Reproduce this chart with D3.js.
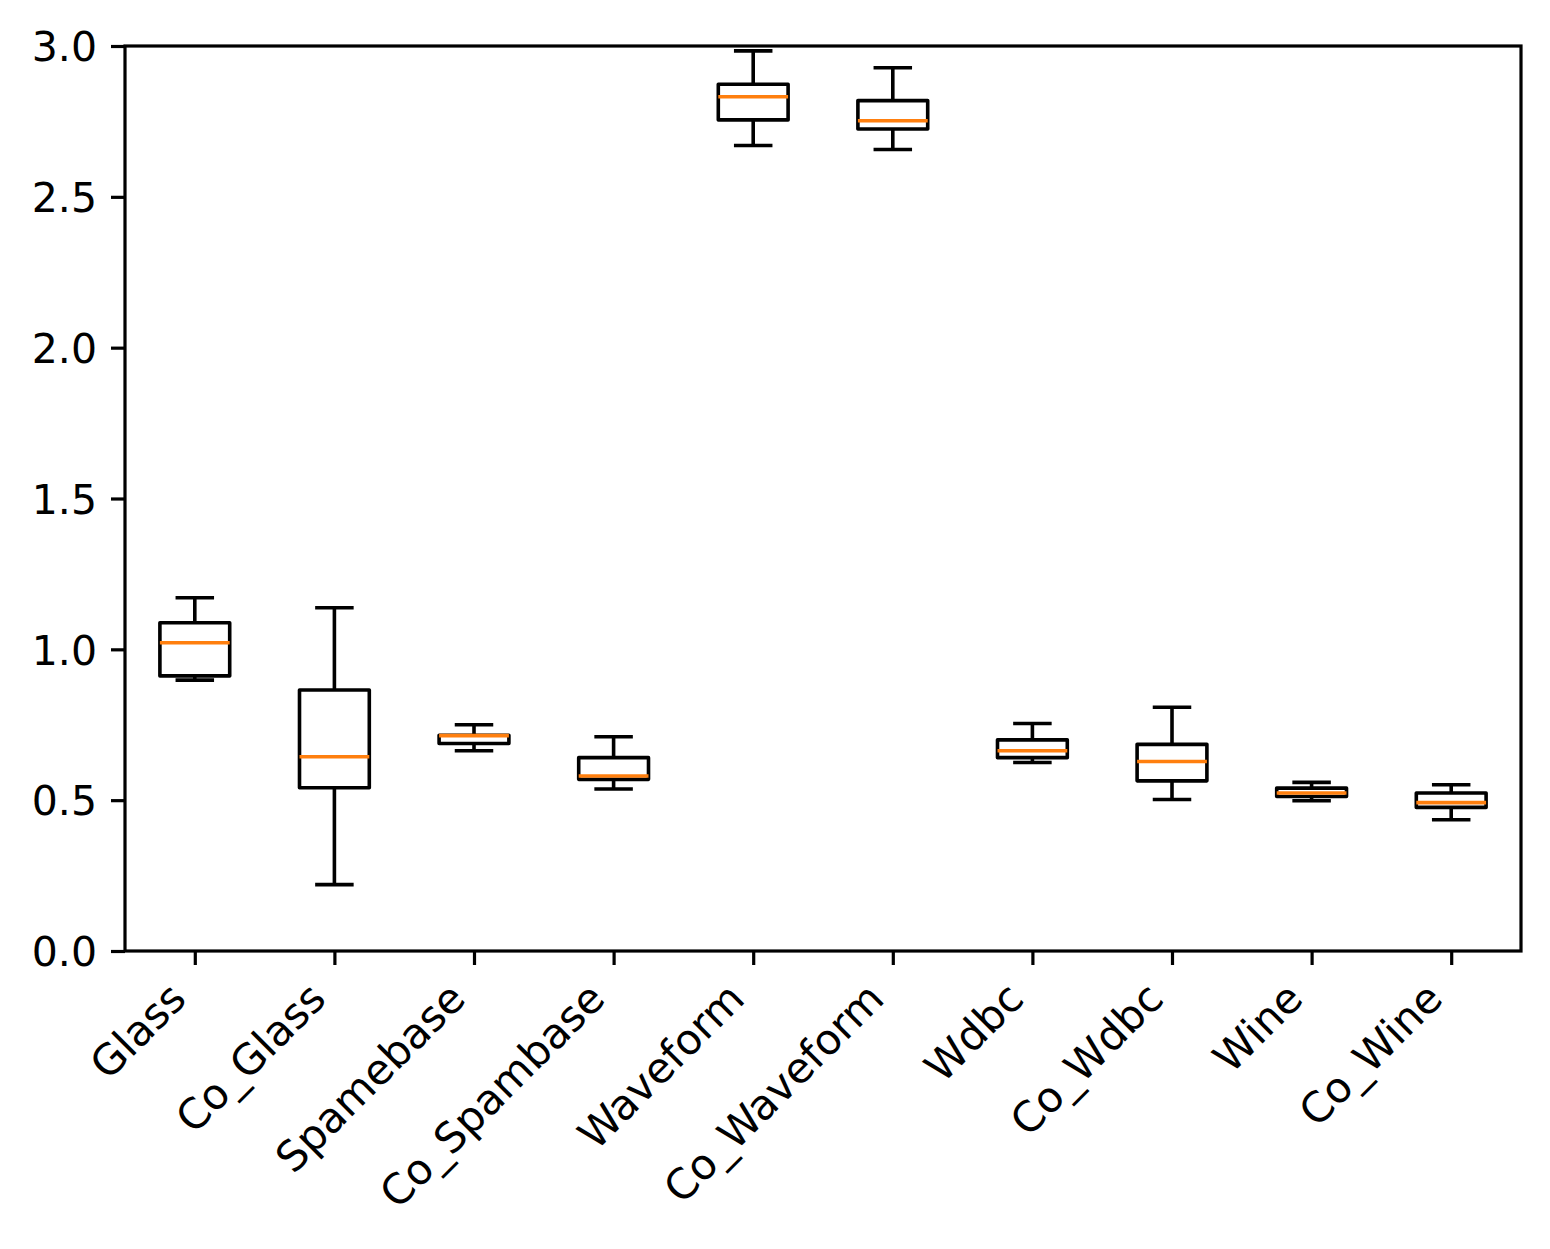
<!DOCTYPE html>
<html>
<head>
<meta charset="utf-8">
<script src="https://cdn.jsdelivr.net/npm/d3@7"></script>
<style>
    body { margin: 0; background: #fff; }
    svg text { font-family: "DejaVu Sans", sans-serif; fill: #000; }
</style>
</head>
<body>
<div id="chart"></div>
<script>
var categories = ['Glass', 'Co_Glass', 'Spamebase', 'Co_Spambase', 'Waveform',
    'Co_Waveform', 'Wdbc', 'Co_Wdbc', 'Wine', 'Co_Wine'];
var whiskerLow = [0.898, 0.220, 0.664, 0.537, 2.670, 2.657, 0.625, 0.502, 0.498, 0.435];
var quartile1 = [0.912, 0.541, 0.688, 0.569, 2.755, 2.725, 0.641, 0.564, 0.512, 0.476];
var medians = [1.022, 0.644, 0.714, 0.580, 2.832, 2.752, 0.664, 0.628, 0.524, 0.492];
var quartile3 = [1.088, 0.865, 0.715, 0.641, 2.873, 2.819, 0.700, 0.685, 0.540, 0.524];
var whiskerHigh = [1.171, 1.138, 0.750, 0.710, 2.984, 2.928, 0.754, 0.808, 0.559, 0.551];
var yTicks = [0, 0.5, 1.0, 1.5, 2.0, 2.5, 3.0];

function drawBoxPlot() {
    var width = 1550, height = 1249;
    var margin = {top: 46, right: 29, bottom: 298, left: 125};
    var plotWidth = width - margin.left - margin.right;
    var plotHeight = height - margin.top - margin.bottom;
    var tickLength = 14;
    var lineWidth = 3.6;

    var svg = d3.select('#chart').append('svg')
        .attr('width', width)
        .attr('height', height);
    svg.append('rect').attr('width', width).attr('height', height).attr('fill', '#fff');

    var g = svg.append('g')
        .attr('transform', 'translate(' + margin.left + ',' + margin.top + ')');

    // positions 1..n like matplotlib, xlim 0.5..n+0.5
    var x = d3.scaleLinear().domain([0.5, categories.length + 0.5]).range([0, plotWidth]);
    var y = d3.scaleLinear().domain([0, 3]).range([plotHeight, 0]);
    var boxHalf = (x(1.25) - x(1));
    var capHalf = boxHalf / 2;

    var rows = categories.map(function(name, i) {
        return {name: name, pos: i + 1, lo: whiskerLow[i], q1: quartile1[i],
            med: medians[i], q3: quartile3[i], hi: whiskerHigh[i]};
    });

    var boxes = g.selectAll('g.box').data(rows).enter().append('g')
        .attr('class', 'box')
        .attr('stroke', '#000')
        .attr('stroke-width', lineWidth)
        .attr('fill', 'none');

    // whiskers
    boxes.append('line')
        .attr('x1', function(d) { return x(d.pos); })
        .attr('x2', function(d) { return x(d.pos); })
        .attr('y1', function(d) { return y(d.q3); })
        .attr('y2', function(d) { return y(d.hi); });
    boxes.append('line')
        .attr('x1', function(d) { return x(d.pos); })
        .attr('x2', function(d) { return x(d.pos); })
        .attr('y1', function(d) { return y(d.q1); })
        .attr('y2', function(d) { return y(d.lo); });

    // caps
    boxes.append('line')
        .attr('stroke-linecap', 'square')
        .attr('x1', function(d) { return x(d.pos) - capHalf; })
        .attr('x2', function(d) { return x(d.pos) + capHalf; })
        .attr('y1', function(d) { return y(d.hi); })
        .attr('y2', function(d) { return y(d.hi); });
    boxes.append('line')
        .attr('stroke-linecap', 'square')
        .attr('x1', function(d) { return x(d.pos) - capHalf; })
        .attr('x2', function(d) { return x(d.pos) + capHalf; })
        .attr('y1', function(d) { return y(d.lo); })
        .attr('y2', function(d) { return y(d.lo); });

    // box
    boxes.append('rect')
        .attr('stroke-linejoin', 'round')
        .attr('x', function(d) { return x(d.pos) - boxHalf; })
        .attr('width', boxHalf * 2)
        .attr('y', function(d) { return y(d.q3); })
        .attr('height', function(d) { return y(d.q1) - y(d.q3); });

    // median
    boxes.append('line')
        .attr('stroke', '#ff7f0e')
        .attr('x1', function(d) { return x(d.pos) - boxHalf; })
        .attr('x2', function(d) { return x(d.pos) + boxHalf; })
        .attr('y1', function(d) { return y(d.med); })
        .attr('y2', function(d) { return y(d.med); });

    // y axis
    var yAxis = g.append('g')
        .call(d3.axisLeft(y).tickValues(yTicks).tickFormat(d3.format('.1f'))
            .tickSize(tickLength).tickPadding(14));
    yAxis.select('.domain').remove();
    yAxis.selectAll('.tick line').attr('stroke', '#000').attr('stroke-width', 3.2);
    yAxis.selectAll('.tick text')
        .attr('font-family', '"DejaVu Sans", sans-serif')
        .attr('font-size', 41)
        .attr('dy', '0.36em');

    // x axis
    var xAxis = g.append('g')
        .attr('transform', 'translate(0,' + plotHeight + ')')
        .call(d3.axisBottom(x).tickValues(d3.range(1, categories.length + 1))
            .tickFormat(function(d) { return categories[d - 1]; })
            .tickSize(tickLength));
    xAxis.select('.domain').remove();
    xAxis.selectAll('.tick line').attr('stroke', '#000').attr('stroke-width', 3.2);
    xAxis.selectAll('.tick text')
        .attr('font-family', '"DejaVu Sans", sans-serif')
        .attr('font-size', 42)
        .attr('text-anchor', 'end')
        .attr('dy', null)
        .attr('y', 0)
        .attr('transform', 'translate(-7,50) rotate(-45)');

    // frame
    g.append('rect')
        .attr('width', plotWidth)
        .attr('height', plotHeight)
        .attr('fill', 'none')
        .attr('stroke', '#000')
        .attr('stroke-width', 3.2);
}

drawBoxPlot();
</script>
</body>
</html>
